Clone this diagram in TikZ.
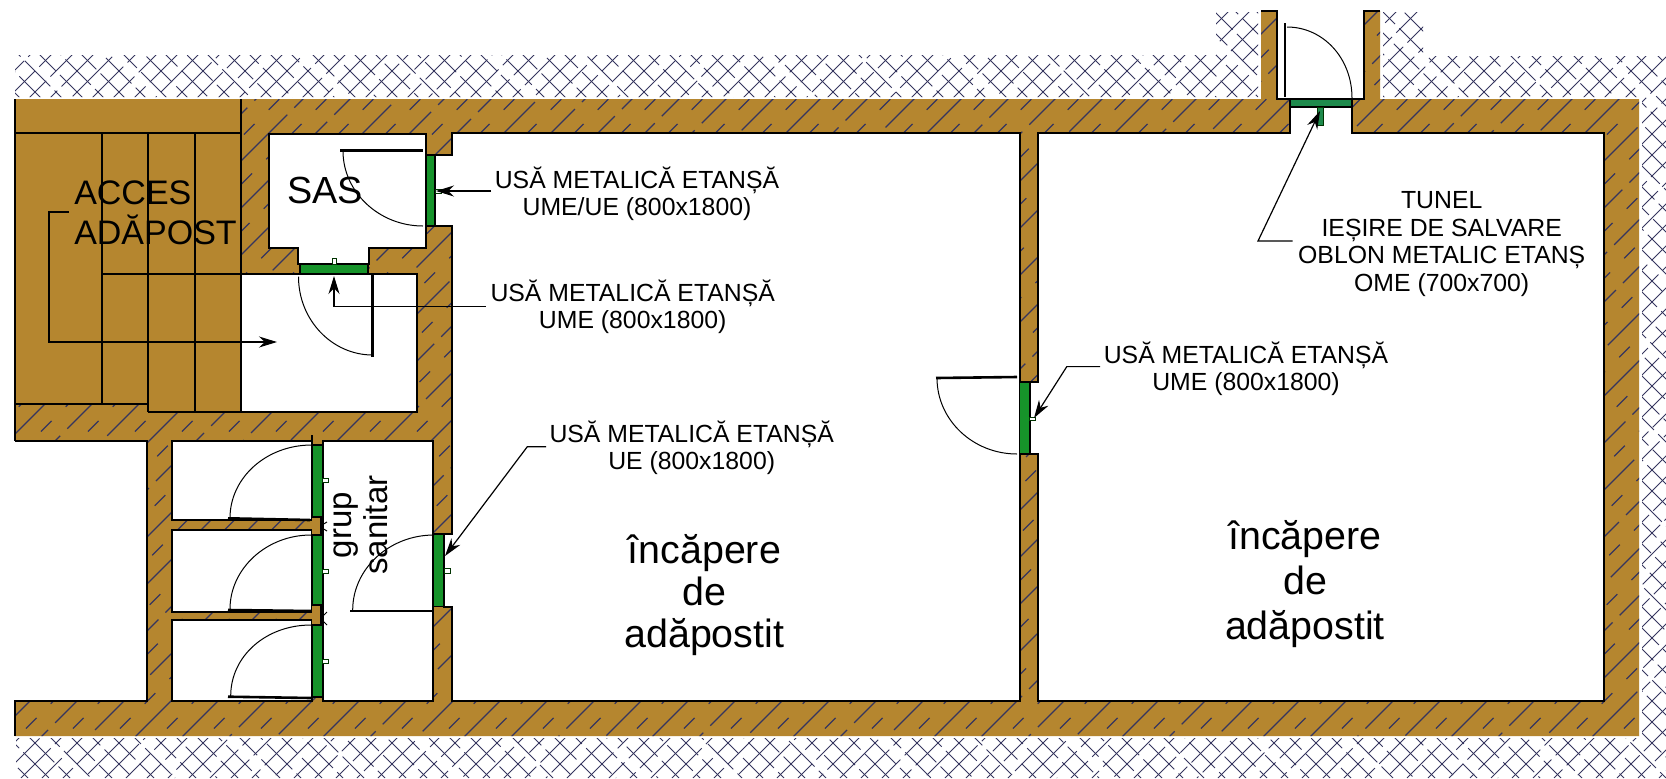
\documentclass[tikz,border=0pt]{standalone}
\usepackage{fontspec}
\setmainfont{Liberation Sans}
\usetikzlibrary{arrows.meta}
\definecolor{wallbrown}{HTML}{B5862F}
\definecolor{doorgreen}{HTML}{16932A}
\definecolor{tungreen}{HTML}{1E8A4C}
\definecolor{hatchnavy}{HTML}{35355F}
\tikzset{
  edge/.style={black,line width=1pt,line join=miter},
  thin edge/.style={black,line width=.6pt},
  roomfill/.style={fill=white,draw=black,line width=1pt},
  door/.style={fill=doorgreen,draw=black,line width=.7pt},
  handle/.style={fill=white,draw=black!80!green,line width=.5pt},
  leaf/.style={black,line width=1.3pt},
  swing/.style={black,line width=.5pt},
  leader/.style={black,line width=.6pt},
  tipped/.style={leader,-{Stealth[length=9pt,width=5.5pt]}},
  lab/.style={font=\fontsize{12.4}{13.6}\selectfont,align=center,inner sep=0pt,text=black},
  big/.style={font=\fontsize{19.7}{21}\selectfont,align=center,inner sep=0pt},
  solidhatch/.style={hatchnavy,line width=.6pt,dash pattern=on 34pt off 5pt},
  dashhatch/.style={hatchnavy,line width=.6pt,dash pattern=on 7.5pt off 10pt},
  soilA/.style={hatchnavy,line width=.5pt,dash pattern=on 28pt off 3pt},
  soilB/.style={hatchnavy,line width=.5pt,dash pattern=on 18pt off 3pt},
}
\begin{document}
\begin{tikzpicture}[x=0.5pt,y=-0.5pt]
\useasboundingbox (0,0) rectangle (1666,778);
\fill[white] (0,0) rectangle (1666,778);
% soil
\begin{scope}
\clip (15,55) -- (1216,55) -- (1216,12) -- (1258,12) -- (1258,97) -- (15,97) -- cycle
      (1383,12) -- (1423,12) -- (1423,56) -- (1666,56) -- (1666,778) -- (16,778) -- (16,738) -- (1642,738) -- (1642,97) -- (1383,97) -- cycle;
\foreach \i in {-38,...,82}{
  \pgfmathsetmacro{\ph}{mod(\i*7,31)}
  \draw[soilA,dash phase=\ph pt] ({\i*21},778) -- ++(778,-778);
  \pgfmathsetmacro{\ph}{mod(\i*11,21)}
  \draw[soilB,dash phase=\ph pt] ({\i*21+6},0) -- ++(778,778);
}
\end{scope}
% wall mass
\fill[wallbrown] (14.5,99) -- (1261,99) -- (1261,11) -- (1276.7,11) -- (1276.7,99) -- (1364,99) -- (1364,11) -- (1380,11) -- (1380,99) -- (1639,99) -- (1639,736) -- (14.5,736) -- cycle;
\begin{scope}
\clip (14.5,99) -- (1261,99) -- (1261,11) -- (1276.7,11) -- (1276.7,99) -- (1364,99) -- (1364,11) -- (1380,11) -- (1380,99) -- (1639,99) -- (1639,736) -- (14.5,736) -- cycle;
\foreach \i in {-18,...,36}{
  \pgfmathsetmacro{\ph}{mod(\i*5,17)}
  \draw[solidhatch,dash phase=\ph pt] ({\i*47},778) -- ++(778,-778);
  \draw[dashhatch] ({\i*47+23.5},778) -- ++(778,-778);
}
\end{scope}
% access stair
\fill[wallbrown] (15,99) -- (241,99) -- (241,412) -- (148,412) -- (148,404) -- (15,404) -- cycle;
\draw[edge] (15,132.7) -- (241,132.7);
\draw[edge] (241,99) -- (241,412);
\draw[edge] (102,132.7) -- (102,404);
\draw[edge] (148,132.7) -- (148,412);
\draw[edge] (195,132.7) -- (195,412);
\draw[edge] (102,274) -- (241,274);
\draw[edge] (14.5,404) -- (148,404);
\draw[edge] (148,412) -- (241,412);
\draw[edge] (14.5,99) -- (14.5,441);
% outside notch
\fill[white] (0,441) rectangle (146.7,701);
\draw[edge] (14.5,441) -- (146.7,441) -- (146.7,701) -- (14.5,701) -- (14.5,736);
% rooms
\draw[roomfill] (269,134) -- (425.5,134) -- (425.5,248) -- (369,248) -- (369,264) -- (298,264) -- (298,248) -- (269,248) -- cycle;
\draw[roomfill] (241,274) -- (416.7,274) -- (416.7,412) -- (241,412) -- cycle;
\draw[roomfill] (172,441) rectangle (312,520);
\draw[roomfill] (172,529.5) rectangle (312,612);
\draw[roomfill] (172,620) rectangle (312,700.5);
\draw[roomfill] (322.7,441) rectangle (433.3,700.5);
\draw[roomfill] (452,133) -- (1019.5,133) -- (1019.5,700.5) -- (452,700.5) -- (452,606.7) -- (444,606.7) -- (444,534) -- (452,534) -- (452,226) -- (435,226) -- (435,155) -- (452,155) -- cycle;
\draw[roomfill] (1038,133) -- (1290,133) -- (1290,107) -- (1352,107) -- (1352,133) -- (1604,133) -- (1604,700.5) -- (1038,700.5) -- (1038,454) -- (1029.5,454) -- (1029.5,382) -- (1038,382) -- cycle;
\fill[white] (1276.7,11) rectangle (1364,99);
\draw[edge] (1261,11) -- (1276.7,11) -- (1276.7,99) -- (1290,99);
\draw[edge] (1380,11) -- (1364,11) -- (1364,99) -- (1352,99);
\draw[edge] (312,435) -- (312,445);
% doors
\draw[door] (426,155) rectangle (435,226);
\draw[door] (300,264) rectangle (368,274);
\draw[door] (312,445) rectangle (322.5,517);
\fill[wallbrown] (312,517) rectangle (321,535);
\draw[door] (312,535) rectangle (322.5,605);
\fill[wallbrown] (312,605) rectangle (321,625);
\draw[door] (312,625) rectangle (322.5,697);
\draw[thin edge] (312,517) -- (321,517) -- (321,535) (312,605) -- (321,605) -- (321,625);
\draw[swing] (322,525) -- (327,522) (322,528) -- (327,531) (322,617) -- (327,612) (322,620) -- (327,625);
\draw[door] (433.5,534) rectangle (444,606.7);
\draw[door] (1019.5,382) rectangle (1029.5,454);
\draw[door,fill=tungreen] (1290,99) rectangle (1352,107);
% handles
\draw[handle] (332,258) rectangle (336,264);
\draw[handle] (322.5,478) rectangle (328,482);
\draw[handle] (322.5,569) rectangle (328,573);
\draw[handle] (322.5,659) rectangle (328,663);
\draw[handle] (444,568) rectangle (450,573);
\draw[handle] (1029.5,417) rectangle (1035,420);
\draw[handle] (435,189) rectangle (441,193);
\draw[handle,fill=tungreen] (1317,107) rectangle (1323,125);
% leaves and swings
\draw[leaf] (340,150.7) -- (422.7,150.7);
\draw[swing] (343,151) .. controls (343,192) and (379,226) .. (423,226);
\draw[leaf] (372.7,275) -- (372.7,356.7);
\draw[swing] (298.5,276.7) .. controls (298.5,320) and (332,355) .. (372.7,355);
\draw[leaf] (228,518.3) -- (310,520);
\draw[swing] (230,518) .. controls (230,478) and (266,445) .. (311.7,445);
\draw[leaf] (228,610) -- (311,611);
\draw[swing] (230,609) .. controls (230,569) and (266,535) .. (311,535);
\draw[leaf] (228,696.7) -- (311,698);
\draw[swing] (230.7,696) .. controls (230.7,656) and (266,625) .. (311,625);
\draw[leaf] (350,611) -- (433,611);
\draw[swing] (352.7,610) .. controls (352.7,569) and (389,535) .. (434,535);
\draw[leaf] (936,378) -- (1017,377);
\draw[swing] (937,378) .. controls (937,420) and (973,454) .. (1017,454);
\draw[leaf] (1285,23) -- (1285,97);
\draw[swing] (1287,27) .. controls (1323,27) and (1352,58) .. (1352,98);
% labels
\node[lab] (t1) at (637,194) {USĂ METALICĂ ETANȘĂ\\UME/UE (800x1800)};
\node[lab] (t2) at (632.7,307) {USĂ METALICĂ ETANȘĂ\\UME (800x1800)};
\node[lab] (t3) at (691.7,448) {USĂ METALICĂ ETANȘĂ\\UE (800x1800)};
\node[lab] (t4) at (1246,368.5) {USĂ METALICĂ ETANȘĂ\\UME (800x1800)};
\node[lab,font=\fontsize{12.4}{13.9}\selectfont] (t5) at (1441.7,244) {TUNEL\\IEȘIRE DE SALVARE\\OBLON METALIC ETANȘ\\OME (700x700)};
\node[big] (r1) at (704.3,595) {încăpere\\de\\adăpostit};
\node[big,font=\fontsize{19.7}{22.3}\selectfont] (r2) at (1305,584) {încăpere\\de\\adăpostit};
\node[font=\fontsize{18.9}{20}\selectfont,inner sep=0pt] (sas) at (325,190) {SAS};
\node[font=\fontsize{17}{20}\selectfont,align=left,inner sep=0pt] (acc) at (155.5,212.5) {ACCES\\ADĂPOST};
\node[font=\fontsize{16.5}{18}\selectfont,align=center,inner sep=0pt,rotate=90] (gs) at (361,525) {grup\\sanitar};
% leaders
\coordinate (s1) at (491,191); \coordinate (e1) at (436,191);
\coordinate (s2) at (485.7,306.7); \coordinate (k2) at (334,306.7); \coordinate (e2) at (334,276);
\coordinate (s3) at (546,446.7); \coordinate (k3) at (527.3,446.7); \coordinate (e3) at (445,556);
\coordinate (s4) at (1100,366.6); \coordinate (k4) at (1066.8,366.6); \coordinate (e4) at (1034,418);
\coordinate (s5) at (1292.7,241); \coordinate (k5) at (1258,241); \coordinate (e5) at (1320,111);
\coordinate (s6) at (69,212); \coordinate (k6a) at (49,212); \coordinate (k6b) at (49,342); \coordinate (e6) at (277,342);
\draw[tipped] (s1) -- (e1);
\draw[tipped] (s2) -- (k2) -- (e2);
\draw[tipped] (s3) -- (k3) -- (e3);
\draw[tipped] (s4) -- (k4) -- (e4);
\draw[tipped] (s5) -- (k5) -- (e5);
\draw[tipped] (s6) -- (k6a) -- (k6b) -- (e6);
\end{tikzpicture}
\end{document}
